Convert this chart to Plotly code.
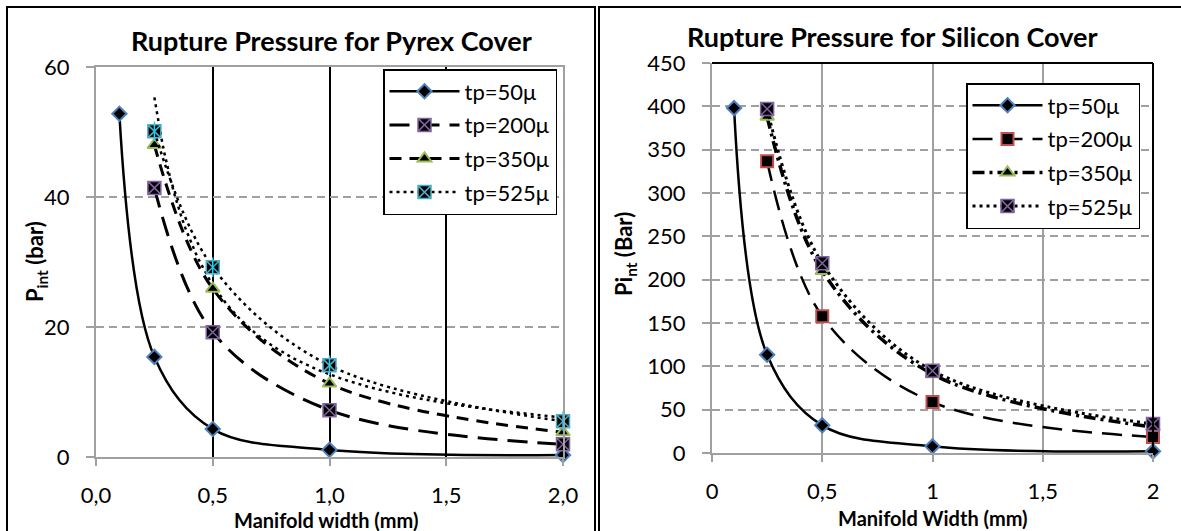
import numpy as np
import plotly.graph_objects as go

# ---- data (manifold width in mm, rupture pressure in bar) ----
widths_50 = [0.1, 0.25, 0.5, 1.0, 2.0]
widths = [0.25, 0.5, 1.0, 2.0]

pyrex_50 = [52.8, 15.4, 4.3, 1.1, 0.3]
pyrex_200 = [41.4, 19.2, 7.2, 1.95]
pyrex_350 = [48.0, 25.9, 11.3, 3.8]
pyrex_525 = [50.1, 29.2, 14.1, 5.5]

silicon_50 = [398, 113.4, 31.9, 7.7, 1.9]
silicon_200 = [336.5, 157.7, 58.8, 18.5]
silicon_350 = [388, 210, 91, 30]
silicon_525 = [397, 219, 95, 33.5]

names = ["tp=50μ", "tp=200μ", "tp=350μ", "tp=525μ"]
pyrex_x_ticks = [0.0, 0.5, 1.0, 1.5, 2.0]

BLUE = "#4F81BD"
RED = "#C0504D"
GREEN = "#9BBB59"
PURPLE = "#8064A2"
CYAN = "#4BACC6"
GRID = "#A0A0A0"
FONT = "Lato"

W, H = 1181, 531


def px_x(p):
    return p / W


def px_y(p):
    return (H - p) / H


fig = go.Figure()


def add(x, y, name, xa, ya, leg, dash, width, symbol, size, fill, edge, edge_w, group=None):
    fig.add_trace(go.Scatter(
        x=x, y=y, name=name, mode="lines+markers",
        line=dict(color="black", width=width, dash=dash, shape="spline", smoothing=1.0),
        marker=dict(symbol=symbol, size=size, color=fill, line=dict(color=edge, width=edge_w)),
        xaxis=xa, yaxis=ya, legend=leg, cliponaxis=False, legendgroup=group,
    ))


# ---- Pyrex cover ----
# power-law trendline of the 525 µm series (least squares in log-log space)
slope, icpt = np.polyfit(np.log(widths), np.log(pyrex_525), 1)
trend_x = np.linspace(widths[0], widths[-1], 120)
trend_y = np.exp(icpt) * trend_x ** slope
fig.add_trace(go.Scatter(x=trend_x, y=trend_y, mode="lines",
                         line=dict(color="black", width=2.5, dash="3px,4px"),
                         xaxis="x", yaxis="y", showlegend=False, hoverinfo="skip", cliponaxis=False))

add(widths_50, pyrex_50, names[0], "x", "y", "legend", "solid", 2.5, "diamond", 11, "black", BLUE, 2, group="a")
add(widths, pyrex_200, names[1], "x", "y", "legend", "20px,10px", 3, "square-x", 13, "black", PURPLE, 1.5, group="b")
add(widths, pyrex_350, names[2], "x", "y", "legend", "12px,8px", 3, "triangle-up", 12, "black", GREEN, 2, group="c")
add(widths, pyrex_525, names[3], "x", "y", "legend", "3px,4px", 2.5, "square-x", 13, "black", CYAN, 1.5, group="d")
# vertical stroke completing the asterisk marker
fig.add_trace(go.Scatter(x=widths, y=pyrex_525, mode="markers",
                         marker=dict(symbol="line-ns-open", size=14, line=dict(color=CYAN, width=1.5)),
                         xaxis="x", yaxis="y", showlegend=False, hoverinfo="skip", cliponaxis=False))

# ---- Silicon cover ----
add(widths_50, silicon_50, names[0], "x2", "y2", "legend2", "solid", 2.5, "diamond", 11, "black", BLUE, 2, group="e")
add(widths, silicon_200, names[1], "x2", "y2", "legend2", "20px,10px", 2.5, "square", 12, "black", RED, 2, group="f")
add(widths, silicon_350, names[2], "x2", "y2", "legend2", "12px,5px,3px,5px", 3.5, "triangle-up", 12, "black", GREEN, 2, group="g")
add(widths, silicon_525, names[3], "x2", "y2", "legend2", "3px,4px", 3, "square-x", 13, "black", PURPLE, 1.5, group="h")

tickfont = dict(family=FONT, size=22, color="black")

common_x = dict(range=[0, 2], showline=True, linecolor=GRID, linewidth=2,
                ticks="outside", ticklen=7, tickcolor=GRID, tickwidth=2, tickfont=tickfont,
                zeroline=False, ticklabelstandoff=11)
common_y = dict(showline=True, linecolor=GRID, linewidth=2, ticks="outside", ticklen=8,
                tickcolor=GRID, tickwidth=2, tickfont=tickfont, zeroline=False,
                gridcolor=GRID, griddash="8px,5px", gridwidth=1.5, ticklabelstandoff=12)

legend_common = dict(xanchor="left", yanchor="top", bgcolor="white", bordercolor="black",
                     borderwidth=1.5, tracegroupgap=2, traceorder="grouped", itemwidth=70,
                     font=dict(family=FONT, size=22))

fig.update_layout(
    width=W, height=H, margin=dict(l=0, r=0, t=0, b=0, autoexpand=False),
    paper_bgcolor="white", plot_bgcolor="white",
    separators=",.",
    font=dict(family=FONT, color="black"),
    xaxis=dict(domain=[px_x(96), px_x(563)], anchor="y", tickvals=pyrex_x_ticks, tickformat=".1f",
               showgrid=True, gridcolor="black", gridwidth=1.5, mirror=True, **common_x),
    yaxis=dict(domain=[px_y(457), px_y(67)], anchor="x", range=[0, 60], dtick=20, mirror=True, **common_y),
    xaxis2=dict(domain=[px_x(712), px_x(1153)], anchor="y2", tick0=0, dtick=0.5,
                showgrid=True, gridcolor=GRID, gridwidth=1.5, **common_x),
    yaxis2=dict(domain=[px_y(453), px_y(63)], anchor="x2", range=[0, 450], dtick=50, **common_y),
    legend=dict(x=px_x(383), y=px_y(69), **legend_common),
    legend2=dict(x=px_x(966), y=px_y(83), **legend_common),
    showlegend=True,
)

# panel frames
fig.add_shape(type="rect", xref="paper", yref="paper", x0=px_x(7), x1=px_x(595), y0=-0.05, y1=px_y(7),
              line=dict(color="black", width=2), layer="below")
fig.add_shape(type="rect", xref="paper", yref="paper", x0=px_x(599), x1=1.05, y0=-0.05, y1=px_y(7),
              line=dict(color="black", width=2), layer="below")
# black top and right borders of the silicon plot area
fig.add_shape(type="line", xref="x2 domain", yref="y2 domain", x0=0, x1=1, y0=1, y1=1,
              line=dict(color="black", width=2), layer="above")
fig.add_shape(type="line", xref="x2 domain", yref="y2 domain", x0=1, x1=1, y0=0, y1=1,
              line=dict(color="black", width=2), layer="above")

ann = [
    dict(text="<b>Rupture Pressure for Pyrex Cover</b>", x=px_x(331), y=px_y(40), font=dict(size=27)),
    dict(text="<b>Rupture Pressure for Silicon Cover</b>", x=px_x(892), y=px_y(37), font=dict(size=27)),
    dict(text="<b>Manifold width (mm)</b>", x=px_x(326), y=px_y(520), font=dict(size=20)),
    dict(text="<b>Manifold Width (mm)</b>", x=px_x(933), y=px_y(518), font=dict(size=20)),
    dict(text="<b>P<sub>int</sub> (bar)</b>", x=px_x(36), y=px_y(262), textangle=-90, font=dict(size=22)),
    dict(text="<b>Pi<sub>nt</sub> (Bar)</b>", x=px_x(625), y=px_y(254), textangle=-90, font=dict(size=22)),
]
for a in ann:
    a.update(xref="paper", yref="paper", showarrow=False, xanchor="center", yanchor="middle")
    a["font"].update(family=FONT, color="black")
fig.update_layout(annotations=ann)

fig.write_html("out.html")
